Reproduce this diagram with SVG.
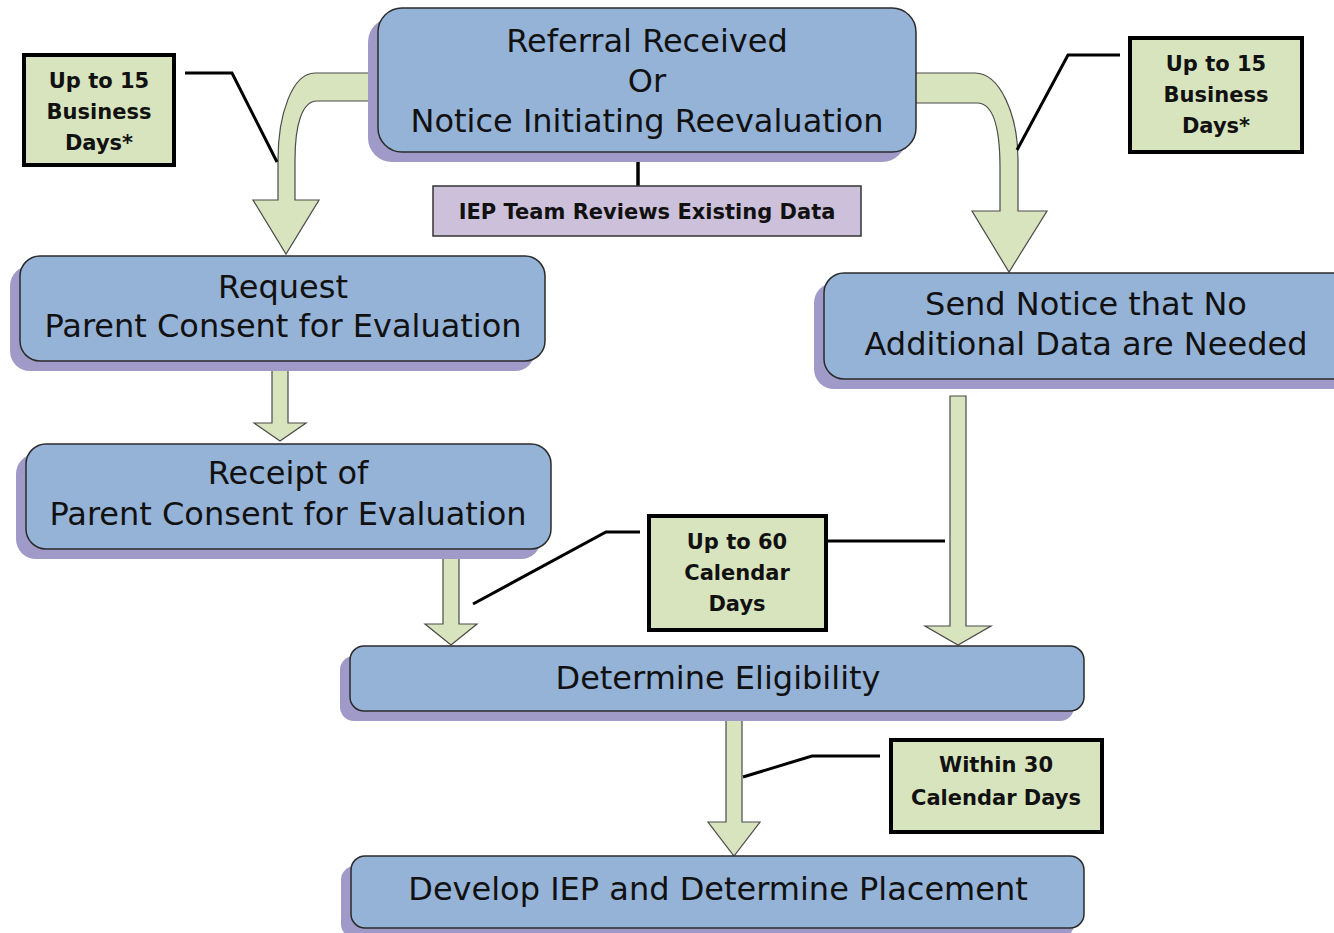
<svg xmlns="http://www.w3.org/2000/svg" width="1334" height="933" viewBox="0 0 1334 933">
<style>
.bg{fill:#ffffff}
.shadow{fill:#A09AC8}
.node{fill:#95B3D7;stroke:#2b2b2b;stroke-width:1.5}
.nt{font-family:"DejaVu Sans",sans-serif;font-size:32px;fill:#111;text-anchor:middle}
.lbl{fill:#D7E4BD;stroke:#000;stroke-width:4}
.lt{font-family:"DejaVu Sans",sans-serif;font-weight:bold;font-size:21px;fill:#111;text-anchor:middle}
.arrow{fill:#D7E4BD;stroke:#4a4a4a;stroke-width:1.2;stroke-linejoin:miter}
.call{fill:none;stroke:#000;stroke-width:3}
.iep{fill:#CCC0DA;stroke:#333;stroke-width:1.5}
</style>
<rect class="bg" x="0" y="0" width="1334" height="933"/>
<g id="connectors">
<path class="arrow" d="M372,73 L315,73 C292,73 278,115 278,160 L278,200 L253,200 L286,254 L319,200 L295,200 L295,160 C295,125 302,101 317,101 L372,101 Z"/>
<path class="arrow" d="M912,73 L975,73 C1000,73 1018,115 1018,160 L1018,211 L1047,211 L1009,272 L972,211 L1000,211 L1000,168 C1000,125 992,103 977,103 L912,103 Z"/>
<path class="arrow" d="M272,370 H288 V423 H306 L280,441 L254,423 H272 Z"/>
<path class="arrow" d="M443,558 H459 V624 H477 L451,645 L425,624 H443 Z"/>
<path class="arrow" d="M950,396 H966 V626 H991 L958,645 L925,626 H950 Z"/>
<path class="arrow" d="M726,720 H742 V822 H760 L734,856 L708,822 H726 Z"/>
<line x1="638" y1="152" x2="638" y2="186" stroke="#000" stroke-width="3.5"/>
<path class="call" d="M185,73 H232 L277,162"/>
<path class="call" d="M1120,55 H1068 L1017,150"/>
<path class="call" d="M473,604 L606,532 H640"/>
<path class="call" d="M826,541 H945" stroke-width="5"/>
<path class="call" d="M743,777 L812,756 H880"/>
</g>
<g id="referral">
<rect class="shadow" x="368" y="18" width="538" height="144" rx="24"/>
<rect class="node" x="378" y="8" width="538" height="144" rx="24"/>
<text class="nt" x="647" y="52">Referral Received</text>
<text class="nt" x="647" y="92">Or</text>
<text class="nt" x="647" y="132">Notice Initiating Reevaluation</text>
</g>
<g id="iep-review">
<rect class="iep" x="433" y="186" width="428" height="50"/>
<text class="lt" x="647" y="219">IEP Team Reviews Existing Data</text>
</g>
<g id="label-left15">
<rect class="lbl" x="24" y="55" width="150" height="110"/>
<text class="lt" x="99" y="88">Up to 15</text>
<text class="lt" x="99" y="119">Business</text>
<text class="lt" x="99" y="150">Days*</text>
</g>
<g id="label-right15">
<rect class="lbl" x="1130" y="38" width="172" height="114"/>
<text class="lt" x="1216" y="71">Up to 15</text>
<text class="lt" x="1216" y="102">Business</text>
<text class="lt" x="1216" y="133">Days*</text>
</g>
<g id="request">
<rect class="shadow" x="10" y="266" width="525" height="105" rx="20"/>
<rect class="node" x="20" y="256" width="525" height="105" rx="20"/>
<text class="nt" x="283" y="298">Request</text>
<text class="nt" x="283" y="337">Parent Consent for Evaluation</text>
</g>
<g id="send-notice">
<rect class="shadow" x="814" y="283" width="540" height="106" rx="20"/>
<rect class="node" x="824" y="273" width="540" height="106" rx="20"/>
<text class="nt" x="1086" y="315">Send Notice that No</text>
<text class="nt" x="1086" y="355">Additional Data are Needed</text>
</g>
<g id="receipt">
<rect class="shadow" x="16" y="454" width="525" height="105" rx="20"/>
<rect class="node" x="26" y="444" width="525" height="105" rx="20"/>
<text class="nt" x="288" y="484">Receipt of</text>
<text class="nt" x="288" y="525">Parent Consent for Evaluation</text>
</g>
<g id="label-60">
<rect class="lbl" x="649" y="516" width="177" height="114"/>
<text class="lt" x="737" y="549">Up to 60</text>
<text class="lt" x="737" y="580">Calendar</text>
<text class="lt" x="737" y="611">Days</text>
</g>
<g id="eligibility">
<rect class="shadow" x="340" y="656" width="734" height="65" rx="14"/>
<rect class="node" x="350" y="646" width="734" height="65" rx="14"/>
<text class="nt" x="718" y="689">Determine Eligibility</text>
</g>
<g id="label-30">
<rect class="lbl" x="891" y="740" width="211" height="92"/>
<text class="lt" x="996" y="772">Within 30</text>
<text class="lt" x="996" y="805">Calendar Days</text>
</g>
<g id="develop">
<rect class="shadow" x="341" y="866" width="733" height="72" rx="14"/>
<rect class="node" x="351" y="856" width="733" height="72" rx="14"/>
<text class="nt" x="718" y="900">Develop IEP and Determine Placement</text>
</g>
</svg>
